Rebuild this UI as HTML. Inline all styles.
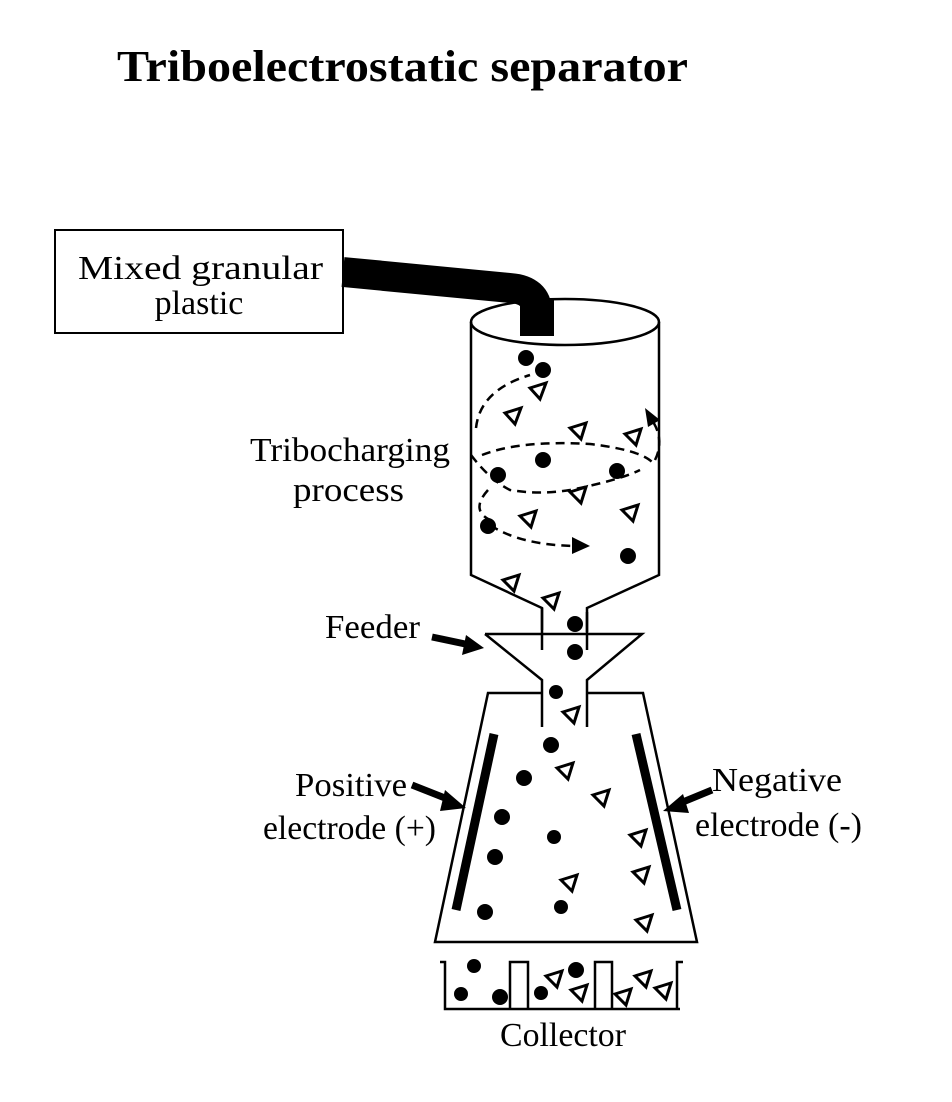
<!DOCTYPE html>
<html><head><meta charset="utf-8"><style>
html,body{margin:0;padding:0;background:#fff}
svg{display:block}
text{font-family:"Liberation Serif",serif;fill:#000}
</style></head><body>
<svg width="952" height="1102" viewBox="0 0 952 1102">
<text x="117" y="81" font-size="44" font-weight="bold" textLength="571" lengthAdjust="spacingAndGlyphs">Triboelectrostatic separator</text>

<g>
<rect x="55" y="230" width="288" height="103" fill="#fff" stroke="#000" stroke-width="2"/>
<text x="78" y="279" font-size="34" textLength="245" lengthAdjust="spacingAndGlyphs">Mixed  granular</text>
<text x="199" y="314" font-size="34" text-anchor="middle">plastic</text>
</g>

<path d="M343,272 L510,288 Q537,290 537,312 L537,336" fill="none" stroke="#000" stroke-width="30"/>

<g fill="none" stroke="#000" stroke-width="2.5">
<ellipse cx="565" cy="322" rx="94" ry="23"/>
<path d="M471,322 L471,575 L542,608 L542,630 M659,322 L659,575 L587,608 L587,632"/>
</g>
<rect x="520" y="300" width="34" height="36" fill="#000"/>

<g fill="none" stroke="#000" stroke-width="2.5" stroke-dasharray="9,6">
<path d="M476,428 Q480,390 530,375"/>
<path d="M471,455 Q490,480 510,490 Q540,495 570,490 Q620,480 640,470"/>
<path d="M655,460 Q665,440 652,420"/>
<path d="M482,455 Q520,440 590,444 Q640,450 652,462"/>
<path d="M488,490 Q470,510 490,520"/>
<path d="M490,525 Q520,545 575,546"/>
</g>
<path d="M645,408 L660,420 L648,427 Z" fill="#000"/>
<path d="M572,537 L590,546 L572,554 Z" fill="#000"/>

<g fill="none" stroke="#000" stroke-width="2.5">
<path d="M485,634 L642,634 L587,680 L587,727 M485,634 L542,680 L542,727"/>
<path d="M542,608 L542,650 M587,612 L587,650" />
</g>

<g fill="none" stroke="#000" stroke-width="2.5">
<path d="M542,693 L488,693 L435,942 L697,942 L643,693 L587,693"/>
</g>
<line x1="494" y1="734" x2="456" y2="910" stroke="#000" stroke-width="9"/>
<line x1="636" y1="734" x2="677" y2="910" stroke="#000" stroke-width="9"/>

<g fill="none" stroke="#000" stroke-width="2.5">
<path d="M440,962 L445,962 L445,1009 L680,1009 M510,1009 L510,962 L528,962 L528,1009 M595,1009 L595,962 L612,962 L612,1009 M677,1009 L677,962 L683,962"/>
</g>

<g fill="#000">
<circle cx="526" cy="358" r="8"/><circle cx="543" cy="370" r="8"/>
<circle cx="543" cy="460" r="8"/><circle cx="498" cy="475" r="8"/><circle cx="617" cy="471" r="8"/>
<circle cx="488" cy="526" r="8"/><circle cx="628" cy="556" r="8"/>
<circle cx="575" cy="624" r="8"/><circle cx="575" cy="652" r="8"/><circle cx="556" cy="692" r="7"/>
<circle cx="551" cy="745" r="8"/><circle cx="524" cy="778" r="8"/><circle cx="502" cy="817" r="8"/>
<circle cx="554" cy="837" r="7"/><circle cx="495" cy="857" r="8"/><circle cx="485" cy="912" r="8"/><circle cx="561" cy="907" r="7"/>
<circle cx="474" cy="966" r="7"/><circle cx="461" cy="994" r="7"/><circle cx="500" cy="997" r="8"/>
<circle cx="576" cy="970" r="8"/><circle cx="541" cy="993" r="7"/>
</g>

<g fill="none" stroke="#000" stroke-width="3">
<path d="M530,388 l16,-5 l-6,16 Z"/><path d="M505,413 l16,-5 l-6,16 Z"/>
<path d="M570,428 l16,-5 l-5,16 Z"/><path d="M625,434 l16,-5 l-5,16 Z"/>
<path d="M570,492 l16,-5 l-5,16 Z"/><path d="M520,516 l16,-5 l-5,16 Z"/><path d="M622,510 l16,-5 l-5,16 Z"/>
<path d="M503,580 l16,-5 l-5,16 Z"/><path d="M543,598 l16,-5 l-5,16 Z"/>
<path d="M563,712 l16,-5 l-5,16 Z"/><path d="M557,768 l16,-5 l-5,16 Z"/><path d="M593,795 l16,-5 l-5,16 Z"/>
<path d="M630,835 l16,-5 l-5,16 Z"/><path d="M561,880 l16,-5 l-5,16 Z"/><path d="M633,872 l16,-5 l-5,16 Z"/>
<path d="M636,920 l16,-5 l-5,16 Z"/>
<path d="M546,976 l16,-5 l-5,16 Z"/><path d="M571,990 l16,-5 l-5,16 Z"/>
<path d="M615,994 l16,-5 l-5,16 Z"/><path d="M635,976 l16,-5 l-5,16 Z"/><path d="M655,988 l16,-5 l-5,16 Z"/>
</g>

<text x="250" y="461" font-size="34" textLength="200" lengthAdjust="spacingAndGlyphs">Tribocharging</text>
<text x="293" y="501" font-size="34" textLength="111" lengthAdjust="spacingAndGlyphs">process</text>
<text x="325" y="638" font-size="34" textLength="95" lengthAdjust="spacingAndGlyphs">Feeder</text>
<path d="M432,637 L470,645" stroke="#000" stroke-width="7"/><path d="M466,635 L484,648 L462,655 Z" fill="#000"/>
<text x="295" y="796" font-size="34" textLength="112" lengthAdjust="spacingAndGlyphs">Positive</text>
<text x="263" y="839" font-size="34" textLength="173" lengthAdjust="spacingAndGlyphs">electrode (+)</text>
<path d="M412,785 L450,800" stroke="#000" stroke-width="7"/><path d="M445,790 L466,808 L440,811 Z" fill="#000"/>
<text x="712" y="791" font-size="34" textLength="130" lengthAdjust="spacingAndGlyphs">Negative</text>
<text x="695" y="836" font-size="34" textLength="167" lengthAdjust="spacingAndGlyphs">electrode (-)</text>
<path d="M712,790 L678,804" stroke="#000" stroke-width="7"/><path d="M683,794 L663,811 L689,813 Z" fill="#000"/>
<text x="500" y="1046" font-size="34" textLength="126" lengthAdjust="spacingAndGlyphs">Collector</text>
</svg>
</body></html>
